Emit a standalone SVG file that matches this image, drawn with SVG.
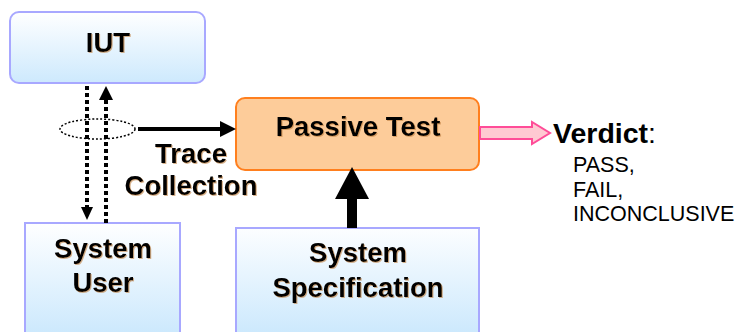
<svg xmlns="http://www.w3.org/2000/svg" width="743" height="332" viewBox="0 0 743 332">
<defs>
<linearGradient id="blueTop" x1="0" y1="0" x2="0" y2="1">
<stop offset="0" stop-color="#ffffff"/>
<stop offset="1" stop-color="#cde9fd"/>
</linearGradient>
<linearGradient id="blueBot" gradientUnits="userSpaceOnUse" x1="0" y1="222" x2="0" y2="332">
<stop offset="0" stop-color="#ffffff"/>
<stop offset="1" stop-color="#cde9fd"/>
</linearGradient>
<filter id="sh" x="-10%" y="-10%" width="120%" height="130%">
<feDropShadow dx="1" dy="1" stdDeviation="0.3" flood-color="#c08040" flood-opacity="0.6"/>
</filter>
</defs>
<style>
.blue{stroke:#a8a8ff;stroke-width:2}
.bt{font-family:"Liberation Sans",Arial,sans-serif;font-weight:bold;font-size:27.5px;fill:#000;text-anchor:middle}
.nt{font-family:"Liberation Sans",Arial,sans-serif;font-size:21.5px;fill:#000}
.dot{stroke:#000;stroke-width:4;stroke-dasharray:4 3;fill:none}
</style>
<g id="iut">
<rect x="10" y="12" width="195" height="71" rx="9" class="blue" fill="url(#blueTop)"/>
<text x="108" y="52" class="bt" filter="url(#sh)">IUT</text>
</g>
<g id="passive-test">
<rect x="236" y="98" width="243" height="72" rx="9" fill="#fdcc9a" stroke="#ff7f1e" stroke-width="2"/>
<text x="358" y="136" class="bt" filter="url(#sh)">Passive Test</text>
</g>
<g id="system-user">
<rect x="25" y="223" width="155" height="120" class="blue" fill="url(#blueBot)"/>
<text x="103" y="258" class="bt" filter="url(#sh)">System</text>
<text x="103" y="292" class="bt" filter="url(#sh)">User</text>
</g>
<g id="system-specification">
<rect x="236" y="228" width="243" height="120" class="blue" fill="url(#blueBot)"/>
<text x="358" y="262" class="bt" filter="url(#sh)">System</text>
<text x="358" y="297" class="bt" filter="url(#sh)">Specification</text>
</g>
<g id="verdict">
<text x="553" y="143" font-family="Liberation Sans,Arial,sans-serif" font-size="28.5" fill="#000"><tspan font-weight="bold">Verdict</tspan>:</text>
<text x="573" y="172" class="nt">PASS,</text>
<text x="573" y="197" class="nt">FAIL,</text>
<text x="573" y="221" class="nt">INCONCLUSIVE</text>
</g>
<g id="connectors">
<line x1="87" y1="86" x2="87" y2="208" class="dot"/>
<polygon points="81,207 93,207 87,220" fill="#000"/>
<line x1="106" y1="100" x2="106" y2="223" class="dot"/>
<polygon points="99,100 113,100 106,86" fill="#000"/>
<ellipse cx="97.5" cy="129" rx="37.5" ry="10" fill="none" stroke="#000" stroke-width="1.5" stroke-dasharray="2 2"/>
<line x1="138" y1="129" x2="222" y2="129" stroke="#000" stroke-width="4"/>
<polygon points="220,121 236,129 220,137" fill="#000"/>
<g id="trace-collection-label">
<text x="191" y="163" class="bt" filter="url(#sh)">Trace</text>
<text x="191" y="195" class="bt" filter="url(#sh)">Collection</text>
</g>
<rect x="347" y="196" width="10" height="32" fill="#000"/>
<polygon points="335,199 369,199 352,167" fill="#000"/>
<polygon points="480,127 532,127 532,122 550,133 532,144 532,139 480,139" fill="#ffc9d2" stroke="#ff4c98" stroke-width="2"/>
</g>
</svg>
